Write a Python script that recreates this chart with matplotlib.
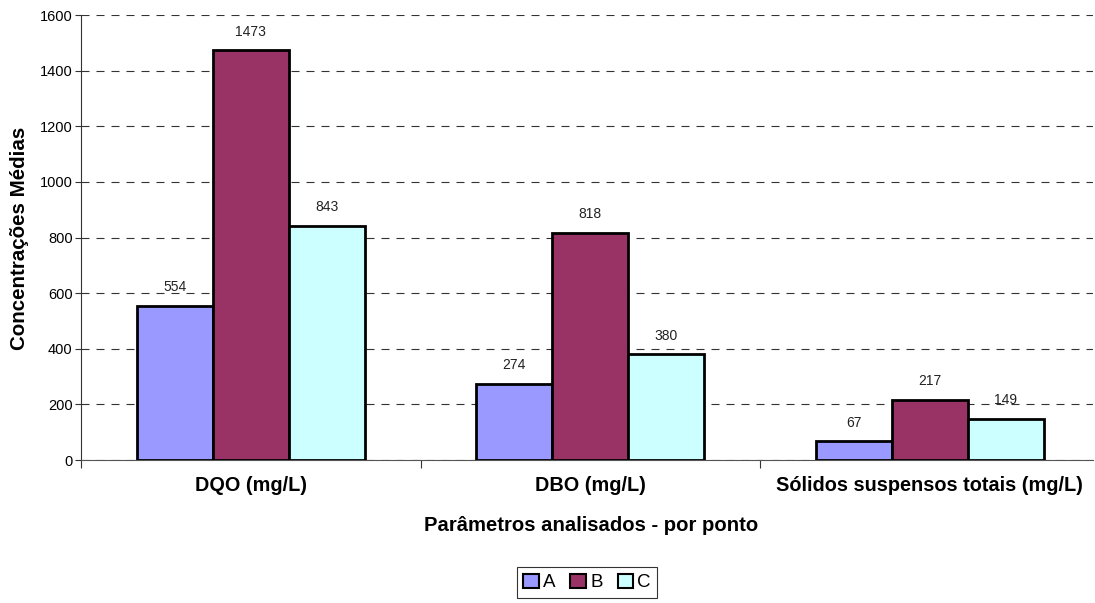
import matplotlib
matplotlib.use("Agg")
import matplotlib.pyplot as plt
import numpy as np

plt.rcParams['font.family'] = ['Liberation Sans', 'DejaVu Sans']

categories = ["DQO (mg/L)", "DBO (mg/L)", "Sólidos suspensos totais (mg/L)"]
series_names = ["A", "B", "C"]
values_a = [554, 274, 67]
values_b = [1473, 818, 217]
values_c = [843, 380, 149]
colors = ["#9999FF", "#993366", "#CCFFFF"]
y_ticks = [0, 200, 400, 600, 800, 1000, 1200, 1400, 1600]

fig = plt.figure(figsize=(10.95, 6.03), dpi=100)
ax = fig.add_axes([0.074, 0.237, 0.924, 0.738])

x = np.arange(len(categories))
width = 0.224
series = [values_a, values_b, values_c]
for i, (name, vals, col) in enumerate(zip(series_names, series, colors)):
    bars = ax.bar(x + (i - 1) * width, vals, width, color=col, edgecolor="black",
                  linewidth=2.0, label=name, zorder=3)
    for b, v in zip(bars, vals):
        ax.text(b.get_x() + b.get_width() / 2, v + 42, str(v), ha="center",
                va="bottom", fontsize=10, color="#222222", zorder=4)

ax.set_xlim(-0.5, len(categories) - 0.52)
ax.set_ylim(0, 1600)
ax.set_yticks(y_ticks)
ax.set_yticklabels([str(t) for t in y_ticks], fontsize=10.5)
ax.yaxis.grid(True, linestyle=(0, (7.2, 6.3)), color="#333333", linewidth=0.8, zorder=0)

# category boundaries carry the tick marks, names sit at the centres
ax.set_xticks(np.arange(len(categories)) - 0.5)
ax.set_xticklabels([])
ax.tick_params(axis="x", length=6, width=0.8, color="#333333", direction="out")
ax.tick_params(axis="y", length=4, width=0.8, color="#333333", direction="out", pad=2)
for xi, cat in zip(x, categories):
    ax.text(xi, -0.058, cat, transform=ax.get_xaxis_transform(), ha="center",
            va="center", fontsize=14.3, fontweight="bold")

for s in ["top", "right"]:
    ax.spines[s].set_visible(False)
ax.spines["left"].set_color("#333333")
ax.spines["bottom"].set_color("#555555")

fig.text(0.018, 0.605, "Concentrações Médias", ha="center", va="center",
         rotation=90, fontsize=14.8, fontweight="bold")
fig.text(0.540, 0.128, "Parâmetros analisados - por ponto", ha="center",
         va="center", fontsize=14.6, fontweight="bold")

leg = fig.legend(loc="center", bbox_to_anchor=(0.536, 0.034), ncol=3, fontsize=13.5,
                 frameon=True, fancybox=False, edgecolor="black", handlelength=0.85,
                 handleheight=0.85, handletextpad=0.2, columnspacing=0.8,
                 borderpad=0.35)
leg.get_frame().set_linewidth(0.8)
for h in leg.legend_handles:
    h.set_linewidth(1.5)

fig.savefig("out.png", dpi=100)
